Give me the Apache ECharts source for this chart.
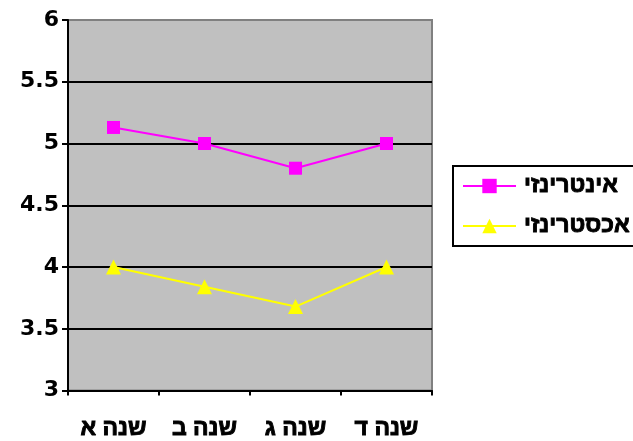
<!DOCTYPE html>
<html>
<head>
<meta charset="utf-8">
<script src="https://cdn.jsdelivr.net/npm/echarts@6/dist/echarts.min.js"></script>
<style>html,body{margin:0;padding:0;background:#fff}#c{width:633px;height:441px}</style>
</head>
<body>
<div id="c"></div>
<script>
var categories = ['שנה א', 'שנה ב', 'שנה ג', 'שנה ד'];
var seriesNames = ['אינטרינזי', 'אכסטרינזי'];
var intrinsic = [5.13, 5.0, 4.8, 5.0];
var extrinsic = [4.0, 3.84, 3.68, 4.0];
var yMin = 3, yMax = 6, yStep = 0.5;

var numFont = '"DejaVu Sans", sans-serif';
var hebFont = '"Liberation Sans", Arial, sans-serif';
var chart = echarts.init(document.getElementById('c'), null, {renderer: 'canvas'});
chart.setOption({
  animation: false,
  backgroundColor: '#ffffff',
  grid: {
    left: 68, top: 20, right: 201, bottom: 49,
    show: true, backgroundColor: '#C0C0C0', borderColor: '#808080', borderWidth: 2
  },
  xAxis: {
    type: 'category',
    data: categories,
    boundaryGap: true,
    axisLine: {lineStyle: {color: '#000', width: 2}},
    axisTick: {show: true, length: 5, lineStyle: {color: '#000', width: 2}},
    axisLabel: {color: '#000', fontFamily: hebFont, fontWeight: 'bold', fontSize: 23, margin: 27,
                textBorderColor: '#000', textBorderWidth: 0.9},
    splitLine: {show: false}
  },
  yAxis: {
    type: 'value',
    min: yMin, max: yMax, interval: yStep,
    axisLine: {show: true, lineStyle: {color: '#000', width: 2}},
    axisTick: {show: true, length: 6, lineStyle: {color: '#000', width: 2}},
    axisLabel: {color: '#000', fontFamily: numFont, fontWeight: 'bold', fontSize: 22, margin: 9},
    splitLine: {show: true, showMinLine: false, showMaxLine: false, lineStyle: {color: '#000', width: 2}}
  },
  legend: {
    orient: 'vertical',
    left: 462, top: 174,
    itemWidth: 53, itemHeight: 18, itemGap: 16,
    padding: 0,
    textStyle: {color: '#000', fontFamily: hebFont, fontWeight: 'bold', fontSize: 23, lineHeight: 24, padding: [0, 0, 0, 3],
                textBorderColor: '#000', textBorderWidth: 0.9},
    data: seriesNames
  },
  graphic: [{
    type: 'rect', left: 452, top: 165, z: -1,
    shape: {width: 200, height: 80},
    style: {fill: '#ffffff', stroke: '#000', lineWidth: 2}
  }],
  series: [{
    name: seriesNames[0], type: 'line', data: intrinsic,
    symbol: 'rect', symbolSize: 13,
    lineStyle: {color: '#FF00FF', width: 2},
    itemStyle: {color: '#FF00FF'}
  }, {
    name: seriesNames[1], type: 'line', data: extrinsic,
    symbol: 'triangle', symbolSize: 15,
    lineStyle: {color: '#FFFF00', width: 2},
    itemStyle: {color: '#FFFF00'}
  }]
});
</script>
</body>
</html>
